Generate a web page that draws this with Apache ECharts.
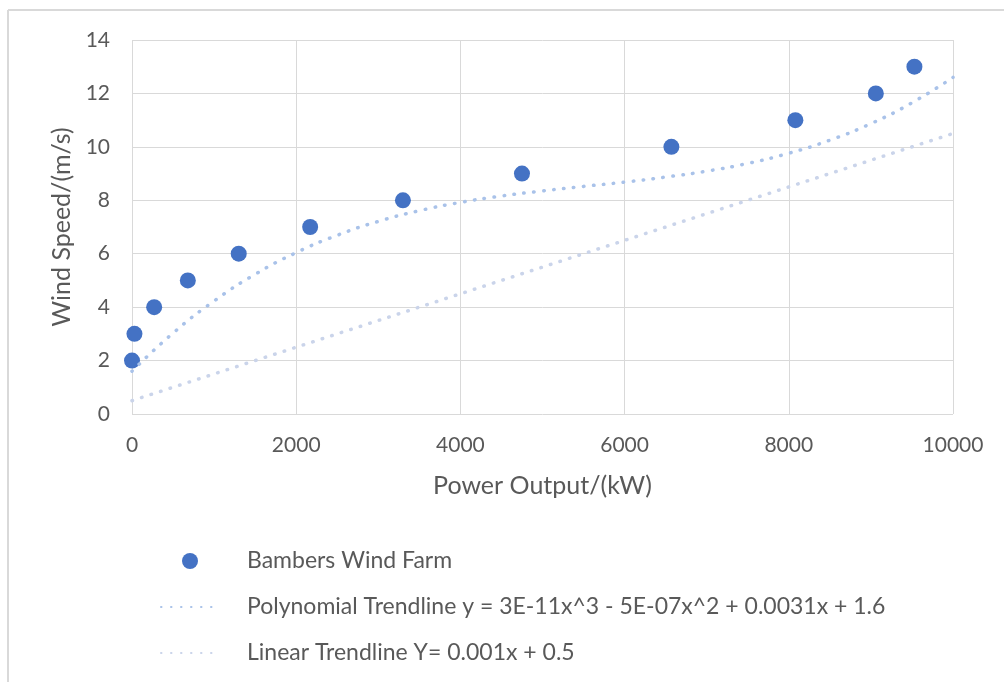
<!DOCTYPE html>
<html><head><meta charset="utf-8">
<script src="https://cdn.jsdelivr.net/npm/echarts@6/dist/echarts.min.js"></script>
<style>html,body{margin:0;padding:0;background:#fff}#c{width:1004px;height:682px}</style>
</head><body><div id="c"></div>
<script>
// Data
const powerOutput = [0, 30, 270, 680, 1300, 2170, 3300, 4750, 6570, 8080, 9060, 9530];
const windSpeed   = [2, 3, 4, 5, 6, 7, 8, 9, 10, 11, 12, 13];
const polyX = [0, 500, 1000, 1500, 2000, 2500, 3000, 3500, 4000, 4500, 5000, 5500, 6000, 6500, 7000, 7500, 8000, 8500, 9000, 9500, 10000];
const polyY = [1.6, 3.03, 4.23, 5.23, 6.04, 6.69, 7.21, 7.61, 7.92, 8.16, 8.35, 8.52, 8.68, 8.87, 9.09, 9.38, 9.76, 10.25, 10.87, 11.65, 12.6];
const linX = [0, 10000];
const linY = [0.5, 10.5];
const names = ['Bambers Wind Farm', 'Polynomial Trendline y = 3E-11x^3 - 5E-07x^2 + 0.0031x + 1.6', 'Linear Trendline Y= 0.001x + 0.5'];

const zip = (a, b) => a.map((v, i) => [v, b[i]]);
const font = 'Lato, "Open Sans", sans-serif';
const chart = echarts.init(document.getElementById('c'));
chart.setOption({
  animation: false,
  textStyle: { fontFamily: font },
  graphic: [
    { type: 'line', shape: { x1: 8, y1: 10, x2: 1004, y2: 10 }, style: { stroke: '#d9d9d9', lineWidth: 2 } },
    { type: 'line', shape: { x1: 8, y1: 10, x2: 8, y2: 682 }, style: { stroke: '#d9d9d9', lineWidth: 2 } }
  ],
  grid: { left: 132, top: 40, right: 51, bottom: 268 },
  xAxis: {
    type: 'value', min: 0, max: 10000, interval: 2000,
    name: 'Power Output/(kW)', nameLocation: 'middle', nameGap: 59,
    nameTextStyle: { color: '#595959', fontSize: 25, fontFamily: font },
    axisLine: { show: false }, axisTick: { show: false },
    axisLabel: { color: '#595959', fontSize: 21, margin: 21, fontFamily: font, formatter: v => String(v) },
    splitLine: { lineStyle: { color: '#d9d9d9', width: 1 } }
  },
  yAxis: {
    type: 'value', min: 0, max: 14, interval: 2,
    name: 'Wind Speed/(m/s)', nameLocation: 'middle', nameGap: 57,
    nameTextStyle: { color: '#595959', fontSize: 25, fontFamily: font },
    axisLine: { show: false }, axisTick: { show: false },
    axisLabel: { color: '#595959', fontSize: 21, margin: 22, fontFamily: font },
    splitLine: { lineStyle: { color: '#d9d9d9', width: 1 } }
  },
  legend: {
    orient: 'vertical', left: 155, top: 543,
    itemWidth: 58, itemHeight: 16, itemGap: 20,
    textStyle: { color: '#595959', fontSize: 23, fontFamily: font, padding: [0, 0, 0, 23], lineHeight: 26 },
    data: [
      { name: names[0], icon: 'circle' },
      { name: names[1], itemStyle: { opacity: 0 } },
      { name: names[2], itemStyle: { opacity: 0 } }
    ]
  },
  series: [
    {
      name: names[2], type: 'line', data: zip(linX, linY), symbol: 'none',
      lineStyle: { color: '#cad4ea', width: 3.5, type: [0.5, 9.5], cap: 'round' },
      itemStyle: { color: '#cad4ea' }
    },
    {
      name: names[1], type: 'line', data: zip(polyX, polyY), smooth: true, symbol: 'none',
      lineStyle: { color: '#a9c2e9', width: 3.5, type: [0.5, 9.5], cap: 'round' },
      itemStyle: { color: '#a9c2e9' }
    },
    {
      name: names[0], type: 'scatter', data: zip(powerOutput, windSpeed), symbolSize: 16,
      itemStyle: { color: '#4472c4', opacity: 1 }
    }
  ]
});
</script></body></html>
